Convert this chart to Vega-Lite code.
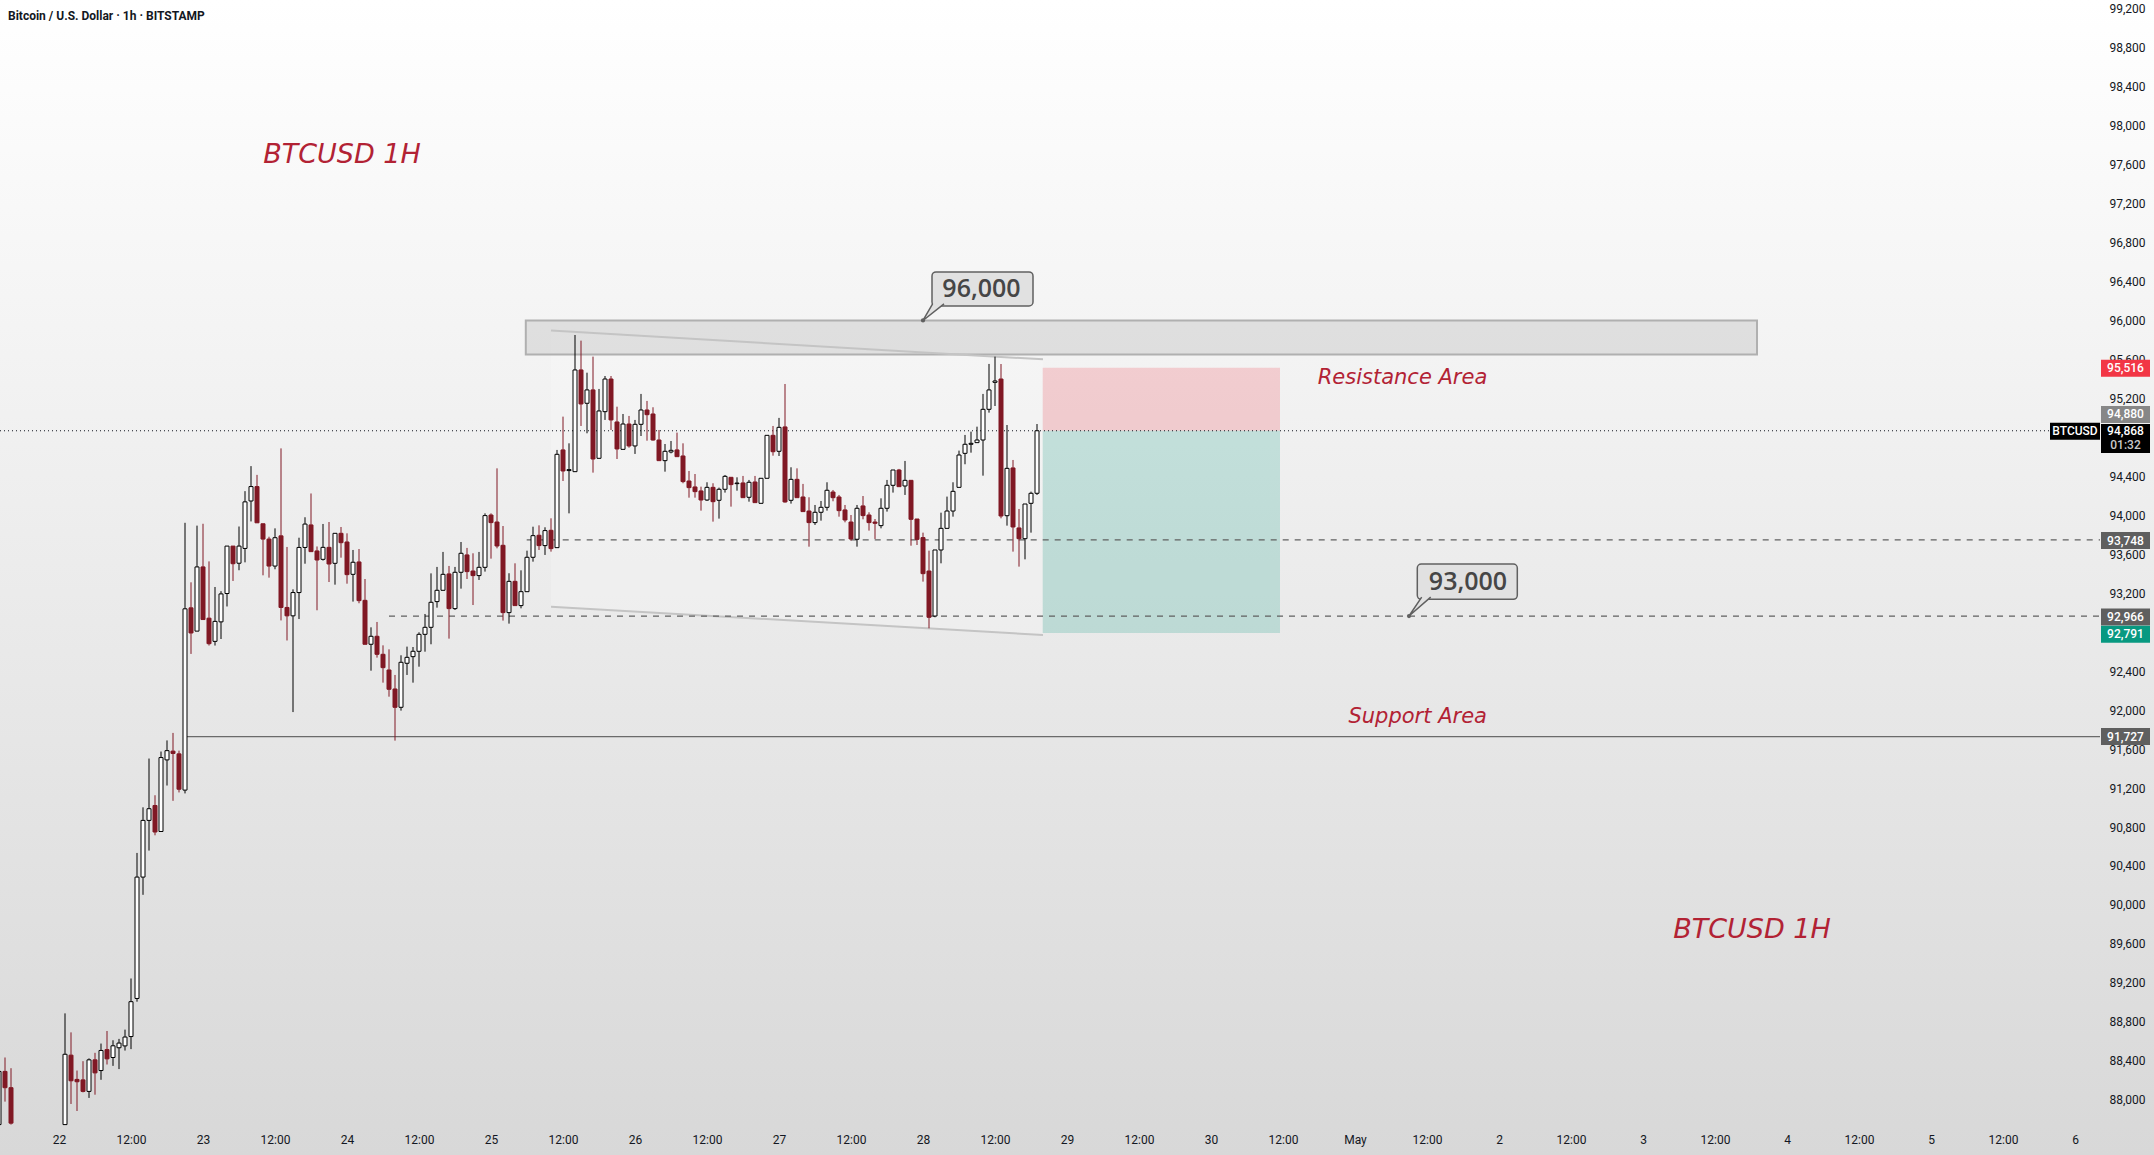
{
"$schema": "https://vega.github.io/schema/vega-lite/v6.json",
"width": 2154, "height": 1155, "autosize": {"type": "none"}, "padding": 0,
"background": "#ececec",
"title": {"text": "Bitcoin / U.S. Dollar · 1h · BITSTAMP", "anchor": "start", "frame": "group", "orient": "top", "offset": -32, "dx": 8, "font": "Roboto", "fontSize": 12, "fontWeight": 700, "color": "#131722", "baseline": "alphabetic"},
"config": {"view": {"stroke": null, "fill": {"gradient": "linear", "x1": 0, "y1": 0, "x2": 0, "y2": 1, "stops": [{"offset": 0, "color": "#ffffff"}, {"offset": 1, "color": "#d8d8d8"}]}}},
"datasets": {
"candles": [
{"t":"2025-04-21T14:00Z","o":87745,"h":88310,"l":87745,"c":88291},
{"t":"2025-04-21T15:00Z","o":88291,"h":88434,"l":87981,"c":88124},
{"t":"2025-04-21T16:00Z","o":88124,"h":88324,"l":87745,"c":87760},
{"t":"2025-04-22T01:00Z","o":87745,"h":88887,"l":87745,"c":88467},
{"t":"2025-04-22T02:00Z","o":88458,"h":88692,"l":87957,"c":88195},
{"t":"2025-04-22T03:00Z","o":88209,"h":88300,"l":87885,"c":88185},
{"t":"2025-04-22T04:00Z","o":88204,"h":88396,"l":88076,"c":88086},
{"t":"2025-04-22T05:00Z","o":88086,"h":88425,"l":88019,"c":88410},
{"t":"2025-04-22T06:00Z","o":88410,"h":88482,"l":88052,"c":88276},
{"t":"2025-04-22T07:00Z","o":88300,"h":88577,"l":88205,"c":88506},
{"t":"2025-04-22T08:00Z","o":88515,"h":88706,"l":88362,"c":88420},
{"t":"2025-04-22T09:00Z","o":88434,"h":88611,"l":88348,"c":88554},
{"t":"2025-04-22T10:00Z","o":88534,"h":88625,"l":88315,"c":88582},
{"t":"2025-04-22T11:00Z","o":88553,"h":88720,"l":88505,"c":88644},
{"t":"2025-04-22T12:00Z","o":88649,"h":89245,"l":88520,"c":89007},
{"t":"2025-04-22T13:00Z","o":89040,"h":90534,"l":89007,"c":90286},
{"t":"2025-04-22T14:00Z","o":90286,"h":91002,"l":90104,"c":90868},
{"t":"2025-04-22T15:00Z","o":90868,"h":91503,"l":90558,"c":90988},
{"t":"2025-04-22T16:00Z","o":91021,"h":91126,"l":90715,"c":90749},
{"t":"2025-04-22T17:00Z","o":90754,"h":91575,"l":90754,"c":91513},
{"t":"2025-04-22T18:00Z","o":91489,"h":91689,"l":91226,"c":91584},
{"t":"2025-04-22T19:00Z","o":91579,"h":91766,"l":91069,"c":91555},
{"t":"2025-04-22T20:00Z","o":91551,"h":91584,"l":91155,"c":91188},
{"t":"2025-04-22T21:00Z","o":91179,"h":93923,"l":91145,"c":93040},
{"t":"2025-04-22T22:00Z","o":93050,"h":93312,"l":92577,"c":92792},
{"t":"2025-04-22T23:00Z","o":92811,"h":93894,"l":92811,"c":93470},
{"t":"2025-04-23T00:00Z","o":93470,"h":93913,"l":92930,"c":92930},
{"t":"2025-04-23T01:00Z","o":92944,"h":93527,"l":92663,"c":92682},
{"t":"2025-04-23T02:00Z","o":92706,"h":93264,"l":92663,"c":92911},
{"t":"2025-04-23T03:00Z","o":92906,"h":93221,"l":92730,"c":93193},
{"t":"2025-04-23T04:00Z","o":93197,"h":93684,"l":93064,"c":93684},
{"t":"2025-04-23T05:00Z","o":93684,"h":93684,"l":93326,"c":93503},
{"t":"2025-04-23T06:00Z","o":93508,"h":93885,"l":93436,"c":93684},
{"t":"2025-04-23T07:00Z","o":93660,"h":94248,"l":93517,"c":94138},
{"t":"2025-04-23T08:00Z","o":94147,"h":94505,"l":93937,"c":94295},
{"t":"2025-04-23T09:00Z","o":94295,"h":94415,"l":93923,"c":93923},
{"t":"2025-04-23T10:00Z","o":93913,"h":93913,"l":93384,"c":93756},
{"t":"2025-04-23T11:00Z","o":93756,"h":93780,"l":93360,"c":93479},
{"t":"2025-04-23T12:00Z","o":93479,"h":93866,"l":93446,"c":93770},
{"t":"2025-04-23T13:00Z","o":93789,"h":94687,"l":92921,"c":93054},
{"t":"2025-04-23T14:00Z","o":93054,"h":93675,"l":92715,"c":92968},
{"t":"2025-04-23T15:00Z","o":92968,"h":93240,"l":91980,"c":93207},
{"t":"2025-04-23T16:00Z","o":93207,"h":93770,"l":92935,"c":93670},
{"t":"2025-04-23T17:00Z","o":93670,"h":93980,"l":93503,"c":93910},
{"t":"2025-04-23T18:00Z","o":93901,"h":94224,"l":93627,"c":93627},
{"t":"2025-04-23T19:00Z","o":93634,"h":93680,"l":93025,"c":93541},
{"t":"2025-04-23T20:00Z","o":93548,"h":93911,"l":93535,"c":93671},
{"t":"2025-04-23T21:00Z","o":93671,"h":93931,"l":93315,"c":93500},
{"t":"2025-04-23T22:00Z","o":93507,"h":93815,"l":93288,"c":93815},
{"t":"2025-04-23T23:00Z","o":93815,"h":93880,"l":93565,"c":93719},
{"t":"2025-04-24T00:00Z","o":93726,"h":93815,"l":93298,"c":93391},
{"t":"2025-04-24T01:00Z","o":93394,"h":93644,"l":93114,"c":93518},
{"t":"2025-04-24T02:00Z","o":93521,"h":93654,"l":93097,"c":93124},
{"t":"2025-04-24T03:00Z","o":93127,"h":93346,"l":92676,"c":92676},
{"t":"2025-04-24T04:00Z","o":92676,"h":92850,"l":92405,"c":92758},
{"t":"2025-04-24T05:00Z","o":92758,"h":92905,"l":92539,"c":92573},
{"t":"2025-04-24T06:00Z","o":92573,"h":92665,"l":92282,"c":92436},
{"t":"2025-04-24T07:00Z","o":92412,"h":92624,"l":92138,"c":92214},
{"t":"2025-04-24T08:00Z","o":92217,"h":92361,"l":91687,"c":92029},
{"t":"2025-04-24T09:00Z","o":92029,"h":92563,"l":91995,"c":92491},
{"t":"2025-04-24T10:00Z","o":92481,"h":92652,"l":92361,"c":92542},
{"t":"2025-04-24T11:00Z","o":92549,"h":92648,"l":92282,"c":92604},
{"t":"2025-04-24T12:00Z","o":92604,"h":92799,"l":92446,"c":92778},
{"t":"2025-04-24T13:00Z","o":92778,"h":92987,"l":92600,"c":92850},
{"t":"2025-04-24T14:00Z","o":92850,"h":93404,"l":92676,"c":93107},
{"t":"2025-04-24T15:00Z","o":93114,"h":93470,"l":93052,"c":93230},
{"t":"2025-04-24T16:00Z","o":93230,"h":93624,"l":93230,"c":93394},
{"t":"2025-04-24T17:00Z","o":93398,"h":93480,"l":92734,"c":93042},
{"t":"2025-04-24T18:00Z","o":93042,"h":93470,"l":93028,"c":93415},
{"t":"2025-04-24T19:00Z","o":93415,"h":93726,"l":93247,"c":93610},
{"t":"2025-04-24T20:00Z","o":93593,"h":93665,"l":93346,"c":93422},
{"t":"2025-04-24T21:00Z","o":93428,"h":93610,"l":93079,"c":93381},
{"t":"2025-04-24T22:00Z","o":93381,"h":93624,"l":93336,"c":93466},
{"t":"2025-04-24T23:00Z","o":93466,"h":94020,"l":93422,"c":93997},
{"t":"2025-04-25T00:00Z","o":94003,"h":94020,"l":93555,"c":93925},
{"t":"2025-04-25T01:00Z","o":93931,"h":94482,"l":93661,"c":93685},
{"t":"2025-04-25T02:00Z","o":93692,"h":93890,"l":92919,"c":93001},
{"t":"2025-04-25T03:00Z","o":93001,"h":93405,"l":92888,"c":93322},
{"t":"2025-04-25T04:00Z","o":93322,"h":93507,"l":93073,"c":93073},
{"t":"2025-04-25T05:00Z","o":93073,"h":93435,"l":93045,"c":93216},
{"t":"2025-04-25T06:00Z","o":93216,"h":93637,"l":93216,"c":93569},
{"t":"2025-04-25T07:00Z","o":93569,"h":93883,"l":93524,"c":93791},
{"t":"2025-04-25T08:00Z","o":93795,"h":93897,"l":93644,"c":93689},
{"t":"2025-04-25T09:00Z","o":93689,"h":93877,"l":93593,"c":93843},
{"t":"2025-04-25T10:00Z","o":93846,"h":93969,"l":93627,"c":93658},
{"t":"2025-04-25T11:00Z","o":93668,"h":94671,"l":93668,"c":94626},
{"t":"2025-04-25T12:00Z","o":94671,"h":95013,"l":94352,"c":94455},
{"t":"2025-04-25T13:00Z","o":94459,"h":94739,"l":94020,"c":94469},
{"t":"2025-04-25T14:00Z","o":94448,"h":95851,"l":94448,"c":95492},
{"t":"2025-04-25T15:00Z","o":95492,"h":95793,"l":94917,"c":95143},
{"t":"2025-04-25T16:00Z","o":95150,"h":95464,"l":94842,"c":95287},
{"t":"2025-04-25T17:00Z","o":95287,"h":95629,"l":94438,"c":94578},
{"t":"2025-04-25T18:00Z","o":94585,"h":95297,"l":94585,"c":95071},
{"t":"2025-04-25T19:00Z","o":95064,"h":95430,"l":94979,"c":95399},
{"t":"2025-04-25T20:00Z","o":95399,"h":95430,"l":94876,"c":94979},
{"t":"2025-04-25T21:00Z","o":94958,"h":95115,"l":94578,"c":94681},
{"t":"2025-04-25T22:00Z","o":94677,"h":95040,"l":94677,"c":94937},
{"t":"2025-04-25T23:00Z","o":94937,"h":95020,"l":94694,"c":94712},
{"t":"2025-04-26T00:00Z","o":94712,"h":94979,"l":94630,"c":94934},
{"t":"2025-04-26T01:00Z","o":94934,"h":95246,"l":94814,"c":95081},
{"t":"2025-04-26T02:00Z","o":95081,"h":95174,"l":94766,"c":95033},
{"t":"2025-04-26T03:00Z","o":95040,"h":95109,"l":94766,"c":94773},
{"t":"2025-04-26T04:00Z","o":94773,"h":94876,"l":94561,"c":94561},
{"t":"2025-04-26T05:00Z","o":94561,"h":94732,"l":94448,"c":94657},
{"t":"2025-04-26T06:00Z","o":94650,"h":94763,"l":94636,"c":94667},
{"t":"2025-04-26T07:00Z","o":94671,"h":94849,"l":94602,"c":94602},
{"t":"2025-04-26T08:00Z","o":94609,"h":94739,"l":94329,"c":94346},
{"t":"2025-04-26T09:00Z","o":94352,"h":94455,"l":94181,"c":94284},
{"t":"2025-04-26T10:00Z","o":94291,"h":94424,"l":94181,"c":94243},
{"t":"2025-04-26T11:00Z","o":94250,"h":94294,"l":94048,"c":94157},
{"t":"2025-04-26T12:00Z","o":94157,"h":94339,"l":94147,"c":94287},
{"t":"2025-04-26T13:00Z","o":94287,"h":94329,"l":93935,"c":94140},
{"t":"2025-04-26T14:00Z","o":94154,"h":94284,"l":93966,"c":94267},
{"t":"2025-04-26T15:00Z","o":94267,"h":94414,"l":94233,"c":94400},
{"t":"2025-04-26T16:00Z","o":94390,"h":94390,"l":94089,"c":94315},
{"t":"2025-04-26T17:00Z","o":94325,"h":94390,"l":94253,"c":94331},
{"t":"2025-04-26T18:00Z","o":94332,"h":94404,"l":94181,"c":94181},
{"t":"2025-04-26T19:00Z","o":94185,"h":94363,"l":94140,"c":94339},
{"t":"2025-04-26T20:00Z","o":94342,"h":94404,"l":94130,"c":94130},
{"t":"2025-04-26T21:00Z","o":94123,"h":94380,"l":94123,"c":94380},
{"t":"2025-04-26T22:00Z","o":94380,"h":94821,"l":94380,"c":94821},
{"t":"2025-04-26T23:00Z","o":94821,"h":94917,"l":94612,"c":94653},
{"t":"2025-04-27T00:00Z","o":94657,"h":95000,"l":94609,"c":94903},
{"t":"2025-04-27T01:00Z","o":94907,"h":95348,"l":94130,"c":94137},
{"t":"2025-04-27T02:00Z","o":94154,"h":94493,"l":94120,"c":94369},
{"t":"2025-04-27T03:00Z","o":94369,"h":94482,"l":94181,"c":94181},
{"t":"2025-04-27T04:00Z","o":94188,"h":94322,"l":94038,"c":94038},
{"t":"2025-04-27T05:00Z","o":94044,"h":94185,"l":93678,"c":93925},
{"t":"2025-04-27T06:00Z","o":93925,"h":94106,"l":93901,"c":94031},
{"t":"2025-04-27T07:00Z","o":94031,"h":94147,"l":93945,"c":94082},
{"t":"2025-04-27T08:00Z","o":94082,"h":94339,"l":94048,"c":94257},
{"t":"2025-04-27T09:00Z","o":94239,"h":94260,"l":94144,"c":94181},
{"t":"2025-04-27T10:00Z","o":94188,"h":94209,"l":93986,"c":94048},
{"t":"2025-04-27T11:00Z","o":94055,"h":94106,"l":93928,"c":93952},
{"t":"2025-04-27T12:00Z","o":93931,"h":94003,"l":93740,"c":93757},
{"t":"2025-04-27T13:00Z","o":93754,"h":94106,"l":93678,"c":94072},
{"t":"2025-04-27T14:00Z","o":94096,"h":94198,"l":93959,"c":93997},
{"t":"2025-04-27T15:00Z","o":94003,"h":94031,"l":93843,"c":93925},
{"t":"2025-04-27T16:00Z","o":93931,"h":93962,"l":93757,"c":93918},
{"t":"2025-04-27T17:00Z","o":93894,"h":94174,"l":93866,"c":94072},
{"t":"2025-04-27T18:00Z","o":94072,"h":94363,"l":94038,"c":94308},
{"t":"2025-04-27T19:00Z","o":94308,"h":94465,"l":94233,"c":94465},
{"t":"2025-04-27T20:00Z","o":94465,"h":94476,"l":94294,"c":94294},
{"t":"2025-04-27T21:00Z","o":94301,"h":94558,"l":94209,"c":94359},
{"t":"2025-04-27T22:00Z","o":94359,"h":94359,"l":93688,"c":93959},
{"t":"2025-04-27T23:00Z","o":93962,"h":93962,"l":93695,"c":93753},
{"t":"2025-04-28T00:00Z","o":93771,"h":93822,"l":93319,"c":93401},
{"t":"2025-04-28T01:00Z","o":93428,"h":93637,"l":92840,"c":92953},
{"t":"2025-04-28T02:00Z","o":92966,"h":93644,"l":92953,"c":93644},
{"t":"2025-04-28T03:00Z","o":93644,"h":94027,"l":93507,"c":93866},
{"t":"2025-04-28T04:00Z","o":93866,"h":94192,"l":93866,"c":94044},
{"t":"2025-04-28T05:00Z","o":94044,"h":94339,"l":93986,"c":94246},
{"t":"2025-04-28T06:00Z","o":94287,"h":94664,"l":94287,"c":94619},
{"t":"2025-04-28T07:00Z","o":94636,"h":94825,"l":94524,"c":94729},
{"t":"2025-04-28T08:00Z","o":94729,"h":94859,"l":94643,"c":94739},
{"t":"2025-04-28T09:00Z","o":94746,"h":94910,"l":94746,"c":94773},
{"t":"2025-04-28T10:00Z","o":94773,"h":95246,"l":94407,"c":95088},
{"t":"2025-04-28T11:00Z","o":95088,"h":95554,"l":95054,"c":95287},
{"t":"2025-04-28T12:00Z","o":95365,"h":95629,"l":95122,"c":95379},
{"t":"2025-04-28T13:00Z","o":95399,"h":95553,"l":93969,"c":93993},
{"t":"2025-04-28T14:00Z","o":93996,"h":94927,"l":93894,"c":94482},
{"t":"2025-04-28T15:00Z","o":94486,"h":94568,"l":93627,"c":93880},
{"t":"2025-04-28T16:00Z","o":93870,"h":94065,"l":93473,"c":93760},
{"t":"2025-04-28T17:00Z","o":93760,"h":94116,"l":93548,"c":94116},
{"t":"2025-04-28T18:00Z","o":94123,"h":94243,"l":93822,"c":94226},
{"t":"2025-04-28T19:00Z","o":94226,"h":94937,"l":94209,"c":94868}
],
"channel": [
{"t":"2025-04-25T10:00Z","p":95896,"p2":93062},
{"t":"2025-04-28T20:00Z","p":95601,"p2":92771}
],
"channelEdges": [
{"t":"2025-04-25T10:00Z","t2":"2025-04-28T20:00Z","p":95896,"p2":95601},
{"t":"2025-04-25T10:00Z","t2":"2025-04-28T20:00Z","p":93062,"p2":92771}
],
"resistance": [
{"t":"2025-04-25T05:48Z","t2":"2025-05-03T19:00Z","p":96000,"p2":95650}
],
"position": [
{"t":"2025-04-28T19:57Z","t2":"2025-04-30T11:30Z","p":95516,"p2":94868,"kind":"stop"},
{"t":"2025-04-28T19:57Z","t2":"2025-04-30T11:30Z","p":94868,"p2":92791,"kind":"target"}
],
"levels": [
{"t":"2025-04-21T14:10Z","t2":"2025-05-05T19:50Z","p":94868,"kind":"last"},
{"t":"2025-04-25T05:57Z","t2":"2025-05-06T04:10Z","p":93748,"kind":"dashed"},
{"t":"2025-04-24T07:00Z","t2":"2025-05-06T04:10Z","p":92966,"kind":"dashed"},
{"t":"2025-04-22T21:00Z","t2":"2025-05-06T04:10Z","p":91727,"kind":"solid"}
],
"calloutBoxes": [
{"t":"2025-04-28T01:30Z","t2":"2025-04-28T18:20Z","p":96498,"p2":96149},
{"t":"2025-05-01T10:23Z","t2":"2025-05-02T03:03Z","p":93500,"p2":93138}
],
"pointers": [
{"g":"a","k":1,"t":"2025-04-28T01:36Z","p":96170},
{"g":"a","k":2,"t":"2025-04-28T00:00Z","p":96000},
{"g":"a","k":3,"t":"2025-04-28T03:30Z","p":96170},
{"g":"b","k":1,"t":"2025-05-01T11:07Z","p":93160},
{"g":"b","k":2,"t":"2025-05-01T09:00Z","p":92966},
{"g":"b","k":3,"t":"2025-05-01T12:37Z","p":93160}
],
"anchors": [
{"t":"2025-04-28T00:00Z","p":96000},
{"t":"2025-05-01T09:00Z","p":92966}
],
"calloutText": [
{"t":"2025-04-28T09:45Z","p":96320,"text":"96,000"},
{"t":"2025-05-01T18:50Z","p":93313,"text":"93,000"}
],
"bigLabels": [
{"t":"2025-04-23T23:10Z","p":97695,"text":"BTCUSD 1H"},
{"t":"2025-05-03T18:10Z","p":89740,"text":"BTCUSD 1H"}
],
"areaLabels": [
{"t":"2025-05-01T07:55Z","p":95412,"text":"Resistance Area"},
{"t":"2025-05-01T10:27Z","p":91925,"text":"Support Area"}
],
"tags": [
{"t":"2025-05-06T04:20Z","t2":"2025-05-06T12:30Z","tc":"2025-05-06T08:25Z","p":95509,"text":"95,516","kind":"stop"},
{"t":"2025-05-06T04:20Z","t2":"2025-05-06T12:30Z","tc":"2025-05-06T08:25Z","p":95036,"text":"94,880","kind":"prev"},
{"t":"2025-05-06T04:20Z","t2":"2025-05-06T12:30Z","tc":"2025-05-06T08:25Z","p":93741,"text":"93,748","kind":"level"},
{"t":"2025-05-06T04:20Z","t2":"2025-05-06T12:30Z","tc":"2025-05-06T08:25Z","p":92956,"text":"92,966","kind":"level"},
{"t":"2025-05-06T04:20Z","t2":"2025-05-06T12:30Z","tc":"2025-05-06T08:25Z","p":92779,"text":"92,791","kind":"target"},
{"t":"2025-05-06T04:20Z","t2":"2025-05-06T12:30Z","tc":"2025-05-06T08:25Z","p":91728,"text":"91,727","kind":"level"},
{"t":"2025-05-05T19:50Z","t2":"2025-05-06T04:10Z","tc":"2025-05-06T00:00Z","p":94864,"text":"BTCUSD","kind":"sym"},
{"t":"2025-05-06T04:20Z","t2":"2025-05-06T12:30Z","tc":"2025-05-06T08:25Z","p":94868,"text":"94,868","kind":"last"},
{"t":"2025-05-06T04:20Z","t2":"2025-05-06T12:30Z","tc":"2025-05-06T08:25Z","p":94722,"text":"01:32","kind":"lastsub"}
],
"lastBox": [
{"t":"2025-05-06T04:20Z","t2":"2025-05-06T12:30Z","p":94938,"p2":94640}
]
},
"encoding": {
"x": {"field": "t", "type": "temporal", "title": null,
 "scale": {"type": "utc", "domain": [1745244600000, 1746537000000], "padding": 0},
 "axis": {"orient": "bottom", "offset": -30, "domain": false, "ticks": false, "tickSize": 0, "grid": false, "labelPadding": 9, "labelFont": "Roboto", "labelFontSize": 12, "labelColor": "#131722", "labelOverlap": false, "labelFlush": false,
  "values": [1745280000000,1745323200000,1745366400000,1745409600000,1745452800000,1745496000000,1745539200000,1745582400000,1745625600000,1745668800000,1745712000000,1745755200000,1745798400000,1745841600000,1745884800000,1745928000000,1745971200000,1746014400000,1746057600000,1746100800000,1746144000000,1746187200000,1746230400000,1746273600000,1746316800000,1746360000000,1746403200000,1746446400000,1746489600000],
  "labelExpr": "utchours(datum.value) == 12 ? '12:00' : (utcdate(datum.value) == 1 ? 'May' : '' + utcdate(datum.value))"}},
"y": {"field": "p", "type": "quantitative", "title": null,
 "scale": {"domain": [87433, 99290], "nice": false, "zero": false, "padding": 0},
 "axis": {"orient": "right", "offset": -54, "domain": false, "ticks": false, "tickSize": 0, "grid": false, "labelPadding": 9, "labelAlign": "left", "labelFont": "Roboto", "labelFontSize": 12, "labelColor": "#131722", "labelOverlap": false, "labelFlush": false, "format": ",.0f",
  "values": [88000,88400,88800,89200,89600,90000,90400,90800,91200,91600,92000,92400,92800,93200,93600,94000,94400,94800,95200,95600,96000,96400,96800,97200,97600,98000,98400,98800,99200]}}
},
"layer": [
{"data": {"name": "channel"}, "mark": {"type": "area", "color": "#ffffff", "opacity": 0.2},
 "encoding": {"y2": {"field": "p2"}}},
{"data": {"name": "resistance"}, "mark": {"type": "rect", "fill": "#9e9e9e", "fillOpacity": 0.25, "stroke": "#b0b0b0", "strokeWidth": 2},
 "encoding": {"x2": {"field": "t2"}, "y2": {"field": "p2"}}},
{"data": {"name": "position"}, "mark": {"type": "rect", "opacity": 0.2},
 "encoding": {"x2": {"field": "t2"}, "y2": {"field": "p2"},
  "color": {"field": "kind", "type": "nominal", "legend": null, "scale": {"domain": ["stop", "target"], "range": ["#f23645", "#089981"]}}}},
{"data": {"name": "channelEdges"}, "mark": {"type": "rule", "color": "#c4c4c4", "strokeWidth": 2},
 "encoding": {"x2": {"field": "t2"}, "y2": {"field": "p2"}}},
{"data": {"name": "levels"}, "transform": [{"filter": "datum.kind == 'last'"}],
 "mark": {"type": "rule", "color": "#131722", "strokeWidth": 1, "strokeDash": [1, 3]},
 "encoding": {"x2": {"field": "t2"}}},
{"data": {"name": "levels"}, "transform": [{"filter": "datum.kind == 'dashed'"}],
 "mark": {"type": "rule", "color": "#606060", "strokeWidth": 1.2, "strokeDash": [6, 6]},
 "encoding": {"x2": {"field": "t2"}}},
{"data": {"name": "levels"}, "transform": [{"filter": "datum.kind == 'solid'"}],
 "mark": {"type": "rule", "color": "#6a6a6a", "strokeWidth": 1.2},
 "encoding": {"x2": {"field": "t2"}}},
{"data": {"name": "candles"}, "mark": {"type": "rule", "strokeWidth": 1},
 "encoding": {"y": {"field": "l", "type": "quantitative", "title": null}, "y2": {"field": "h"},
  "color": {"condition": {"test": "datum.c >= datum.o", "value": "#000000"}, "value": "#801824"}}},
{"data": {"name": "candles"}, "mark": {"type": "bar", "width": 4, "strokeWidth": 1},
 "encoding": {"y": {"field": "o", "type": "quantitative", "title": null}, "y2": {"field": "c"},
  "fill": {"condition": {"test": "datum.c >= datum.o", "value": "#ffffff"}, "value": "#801824"},
  "stroke": {"condition": {"test": "datum.c >= datum.o", "value": "#000000"}, "value": "#801824"}}},
{"data": {"name": "calloutBoxes"}, "mark": {"type": "rect", "fill": "#e1e1e1", "stroke": "#606060", "strokeWidth": 1.5, "cornerRadius": 4},
 "encoding": {"x2": {"field": "t2"}, "y2": {"field": "p2"}}},
{"data": {"name": "pointers"}, "mark": {"type": "line", "stroke": "#606060", "strokeWidth": 1.5, "fill": "#e1e1e1"},
 "encoding": {"detail": {"field": "g"}, "order": {"field": "k"}}},
{"data": {"name": "anchors"}, "mark": {"type": "point", "filled": true, "color": "#606060", "size": 18, "opacity": 1}},
{"data": {"name": "calloutText"}, "mark": {"type": "text", "font": "Open Sans", "fontWeight": 600, "fontSize": 25, "color": "#464646", "align": "center", "baseline": "middle"},
 "encoding": {"text": {"field": "text"}}},
{"data": {"name": "bigLabels"}, "mark": {"type": "text", "font": "DejaVu Sans", "fontStyle": "italic", "fontSize": 27, "color": "#b22234", "align": "center", "baseline": "middle"},
 "encoding": {"text": {"field": "text"}}},
{"data": {"name": "areaLabels"}, "mark": {"type": "text", "font": "DejaVu Sans", "fontStyle": "italic", "fontSize": 21, "color": "#b22234", "align": "center", "baseline": "middle"},
 "encoding": {"text": {"field": "text"}}},
{"data": {"name": "tags"}, "transform": [{"filter": "datum.kind != 'last' && datum.kind != 'lastsub'"}],
 "mark": {"type": "bar", "height": 17},
 "encoding": {"x2": {"field": "t2"},
  "fill": {"field": "kind", "type": "nominal", "legend": null, "scale": {"domain": ["stop", "prev", "level", "target", "sym"], "range": ["#f23645", "#878787", "#5f5f5f", "#089981", "#000000"]}}}},
{"data": {"name": "lastBox"}, "mark": {"type": "rect", "fill": "#000000"},
 "encoding": {"x2": {"field": "t2"}, "y2": {"field": "p2"}}},
{"data": {"name": "tags"}, "mark": {"type": "text", "font": "Roboto", "fontSize": 12, "fontWeight": 500, "align": "center", "baseline": "middle"},
 "encoding": {"x": {"field": "tc", "type": "temporal", "title": null, "scale": {"type": "utc"}}, "text": {"field": "text"},
  "color": {"condition": {"test": "datum.kind == 'lastsub'", "value": "#c9c9c9"}, "value": "#ffffff"}}}
]
}
